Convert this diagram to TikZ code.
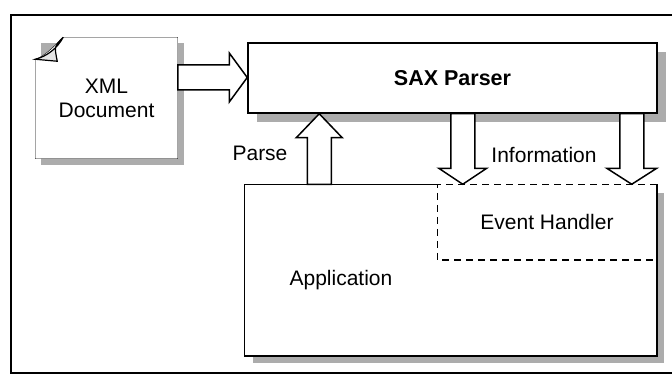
\documentclass[tikz,border=0pt]{standalone}
\usepackage{fontspec}
\setmainfont{Liberation Sans}
\usetikzlibrary{calc,shadows,backgrounds}

% block arrow: #1 tail, #2 tip, #3 half shaft width, #4 half head width, #5 head length
\newcommand\blockarr[5]{%
  \coordinate (hb) at ($(#2)!#5!(#1)$);
  \draw[blockarrow] ($(#1)!#3!90:(#2)$) -- ($(hb)!#3!90:(#2)$) -- ($(hb)!#4!90:(#2)$)
    -- (#2) -- ($(hb)!#4!-90:(#2)$) -- ($(hb)!#3!-90:(#2)$) -- ($(#1)!#3!-90:(#2)$) -- cycle;}

\begin{document}
\begin{tikzpicture}[x=1pt,y=-1pt,line width=1.5pt,
  txt/.style={font=\fontsize{21}{24}\selectfont,inner sep=0pt},
  shadowfill/.style={fill=gray!65,draw=none},
  dropshade/.style={general shadow={shadow xshift=#1,shadow yshift=-#1,shadowfill}},
  blockarrow/.style={draw,fill=white},
  dashline/.style={dash pattern=on 7pt off 5pt}]
\useasboundingbox (0,0) rectangle (672,377);

% outer frame, open to the right
\draw (672,15) -- (11,15) -- (11,373) -- (672,373);

% nodes
\node[txt,align=center,minimum width=141pt,minimum height=120pt] (xml) at (106.5,98) {XML\\Document};
\node[txt,font=\fontsize{21.5}{24}\selectfont\bfseries,draw,fill=white,minimum width=409pt,minimum height=70pt,
      dropshade=9pt] (sax) at (452.5,78) {SAX Parser};
\node[fill=white,draw=none,minimum width=411pt,minimum height=170pt,inner sep=0pt,
      dropshade=8pt] (app) at (450.5,270) {};
\node[txt,minimum width=218pt,minimum height=74pt] (evt) at (547,222) {Event Handler};
\node[txt] (apptxt) at (341,280) {Application};
\node[txt] (parse) at (260,153) {Parse};
\node[txt] (info) at (544,155) {Information};

% XML document page with shadow and folded corner
\begin{scope}[on background layer]
  \fill[shadowfill] ([shift={(6,6)}]xml.north west) rectangle ([shift={(6,6)}]xml.south east);
  \draw[fill=white] ([yshift=-22pt]xml.north west) -- (xml.south west) -- (xml.south east)
    -- (xml.north east) -- ([xshift=28pt]xml.north west)
    .. controls ([shift={(18,10)}]xml.north west) and ([shift={(8,20)}]xml.north west) .. ([yshift=-22pt]xml.north west);
  \draw[fill=gray!20,line width=1.2pt] ([xshift=28pt]xml.north west)
    .. controls ([shift={(19,9)}]xml.north west) .. ([shift={(22,24)}]xml.north west)
    -- ([yshift=-22pt]xml.north west)
    .. controls ([shift={(12,19)}]xml.north west) and ([shift={(22,11)}]xml.north west) .. ([xshift=28pt]xml.north west);
\end{scope}

% application box: solid edges, dashed event handler part
\draw (evt.north west) -- (app.north west) -- (app.south west) -- (app.south east) -- (app.north east);
\draw[dashline] (app.north east) -- (evt.north west) -- (evt.south west) -- (evt.south east);

% block arrows
\coordinate (xa) at ([yshift=20.5pt]xml.east);
\coordinate (xb) at (sax.west |- xa);
\blockarr{xa}{xb}{12.5pt}{24.5pt}{18pt}

\coordinate (pa) at ([xshift=75pt]app.north west);
\coordinate (pb) at (sax.south -| pa);
\blockarr{pa}{pb}{12pt}{23pt}{24pt}

\coordinate (ia) at ([xshift=215.5pt]sax.south west);
\coordinate (ib) at (app.north -| ia);
\blockarr{ia}{ib}{12pt}{24pt}{16pt}

\coordinate (ja) at ([xshift=384.5pt]sax.south west);
\coordinate (jb) at (app.north -| ja);
\blockarr{ja}{jb}{12pt}{25pt}{16pt}
\end{tikzpicture}
\end{document}
